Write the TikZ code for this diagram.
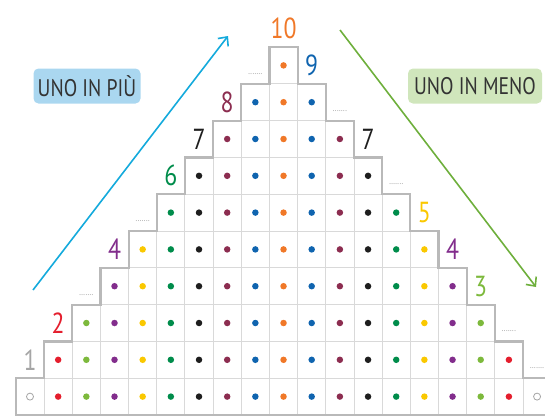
\documentclass[tikz,border=0pt]{standalone}
\usepackage{fontspec}
\setmainfont{PT Sans}[FakeStretch=0.82]
\usetikzlibrary{arrows.meta,positioning}
\definecolor{dot0}{RGB}{165,165,165}
\definecolor{dot1}{RGB}{228,30,45}
\definecolor{dot2}{RGB}{125,185,60}
\definecolor{dot3}{RGB}{130,45,140}
\definecolor{dot4}{RGB}{250,200,0}
\definecolor{dot5}{RGB}{0,140,75}
\definecolor{dot6}{RGB}{30,30,30}
\definecolor{dot7}{RGB}{140,45,80}
\definecolor{dot8}{RGB}{15,100,175}
\definecolor{dot9}{RGB}{240,120,40}
\definecolor{arrowblue}{RGB}{20,170,220}
\definecolor{arrowgreen}{RGB}{110,175,60}
\definecolor{boxblue}{RGB}{170,215,240}
\definecolor{boxgreen}{RGB}{208,230,188}

\begin{document}
\begin{tikzpicture}[
  x=1pt, y=-1pt,
  >={Straight Barb[length=7pt,width=13pt]},
  cell/.style={
    draw=gray!30,
    line width=0.9pt,
    minimum width=28.17pt,
    minimum height=36.8pt,
    inner sep=0pt
  },
  spot/.style={circle, inner sep=0pt, minimum size=6.5pt},
  zerospot/.style={circle, draw=dot0, line width=0.8pt, inner sep=0pt, minimum size=7pt},
  outline/.style={draw=gray!55, line width=2.2pt, line join=miter},
  num/.style={font=\fontsize{29}{29}\selectfont, inner sep=0pt},
  blank/.style={font=\fontsize{9}{9}\selectfont, text=gray!80, inner sep=0pt},
  tag/.style={
    rounded corners=5pt,
    font=\fontsize{24}{24}\selectfont,
    text=black!80,
    minimum height=35pt,
    inner xsep=3pt
  }
]
\useasboundingbox (0,0) rectangle (545,418);

% pyramid of cells
\foreach \k in {0,...,9} {
  \pgfmathtruncatemacro\last{18-\k}
  \foreach \c in {\k,...,\last} {
    \pgfmathtruncatemacro\d{min(\c,18-\c)}
    \node[cell] (cell-\k-\c) at ({30+28.17*\c},{396.6-36.8*\k}) {};
    \ifnum\d=0
      \node[zerospot] at (cell-\k-\c) {};
    \else
      \node[spot, fill=dot\d] at (cell-\k-\c) {};
    \fi
  }
}
\draw[outline] (16,415)
  \foreach \k in {0,...,9} { -- ({16+28.17*\k},{415-36.8*\k}) -- ({16+28.17*\k},{378.2-36.8*\k}) }
  \foreach \k in {9,...,0} { -- ({16+28.17*(19-\k)},{378.2-36.8*\k}) -- ({16+28.17*(19-\k)},{415-36.8*\k}) }
  -- cycle;

% numbers going up
\foreach \k/\col in {1/dot0, 2/dot1, 4/dot3, 6/dot5, 7/dot6, 8/dot7, 10/dot9}
  \node[num, text=\col] (up\k) at ({30+28.17*(\k-1)},{396.6-36.8*\k}) {\k};
\foreach \k in {3,5,9}
  \node[blank] (up\k) at ({30+28.17*(\k-1)},{405-36.8*\k}) {.......};

% numbers going down
\foreach \k/\col in {9/dot8, 7/dot6, 5/dot4, 4/dot3, 3/dot2}
  \node[num, text=\col] (down\k) at ({30+28.17*(19-\k)},{396.6-36.8*\k}) {\k};
\foreach \k in {8,6,2,1}
  \node[blank] (down\k) at ({30+28.17*(19-\k)},{405-36.8*\k}) {.......};

% tags and arrows
\node[tag, fill=boxblue, minimum width=107pt] (more) at (87,86) {UNO IN PIÙ};
\node[tag, fill=boxgreen, minimum width=134pt] (less) at (475,86) {UNO IN MENO};
\coordinate (morefrom) at (33,290);
\coordinate (moreto) at (228,36);
\coordinate (lessfrom) at (340,30);
\coordinate (lessto) at (536,287);
\draw[->, arrowblue, line width=1.6pt] (morefrom) -- (moreto);
\draw[->, arrowgreen, line width=1.6pt] (lessfrom) -- (lessto);
\end{tikzpicture}
\end{document}
